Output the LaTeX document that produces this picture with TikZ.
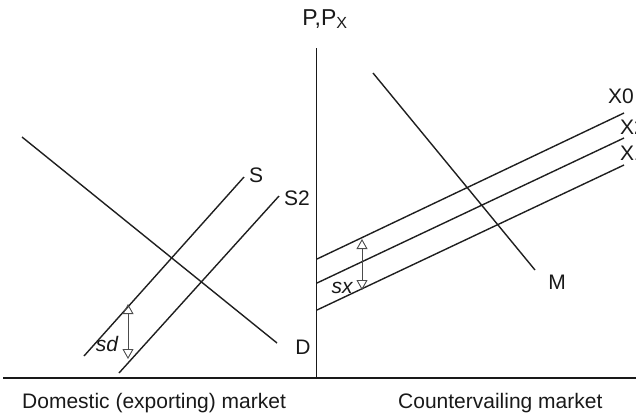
\documentclass[tikz,border=0pt]{standalone}
\usepackage{fontspec}
\setmainfont{Liberation Sans}
\usetikzlibrary{arrows.meta}
\begin{document}
\begin{tikzpicture}[x=1pt,y=-1pt,
  curve/.style={line width=1.4pt,draw=black!88},
  axisline/.style={line width=1.6pt,draw=black!90},
  shiftarrow/.style={line width=0.9pt,draw=black!70,
    {Triangle[open,length=10pt,width=11pt,line width=0.9pt]}-{Triangle[open,length=10pt,width=11pt,line width=0.9pt]}},
  lab/.style={font=\fontsize{21}{25}\selectfont,inner sep=0pt,text=black!90},
  ilab/.style={lab,font=\fontsize{21}{25}\selectfont\itshape}]
\useasboundingbox (0,0) rectangle (636,418);
% axes
\coordinate (vtop) at (316.5,48);
\coordinate (vbot) at (316.5,378);
\coordinate (hl) at (3,378);
\coordinate (hr) at (636,378);
\draw[axisline] (vtop) -- (vbot);
\draw[axisline] (hl) -- (hr);
\node[lab,font=\fontsize{23}{27}\selectfont] (py) at (325,19) {P,P$_{\mathrm{X}}$};
% left market
\coordinate (d1) at (22,137);
\coordinate (d2) at (277,343);
\draw[curve] (d1) -- (d2);
\coordinate (s1) at (84,356);
\coordinate (s2) at (244,177);
\draw[curve] (s1) -- (s2);
\coordinate (t1) at (119,373);
\coordinate (t2) at (279,196);
\draw[curve] (t1) -- (t2);
\node[lab] (slab) at (256,175) {S};
\node[lab] (s2lab) at (297,198) {S2};
\node[lab] (dlab) at (303,347) {D};
\coordinate (sda) at (128,304);
\coordinate (sdb) at (128,359);
\draw[shiftarrow] (sda) -- (sdb);
\node[ilab] (sd) at (107,344) {sd};
% right market
\coordinate (x01) at (317,259);
\coordinate (x02) at (624,113);
\draw[curve] (x01) -- (x02);
\coordinate (x21) at (317,283);
\coordinate (x22) at (624,138);
\draw[curve] (x21) -- (x22);
\coordinate (x11) at (317,310);
\coordinate (x12) at (624,165);
\draw[curve] (x11) -- (x12);
\coordinate (m1) at (373,73);
\coordinate (m2) at (535,270);
\draw[curve] (m1) -- (m2);
\node[lab] (mlab) at (557,282) {M};
\node[lab,anchor=west] (x0lab) at (608,96) {X0};
\node[lab,anchor=west] (x2lab) at (620,127) {X2};
\node[lab,anchor=west] (x1lab) at (620,153) {X1};
\coordinate (sxa) at (362,239);
\coordinate (sxb) at (362,290);
\draw[shiftarrow] (sxa) -- (sxb);
\node[ilab] (sx) at (342,288) {sx};
% captions
\node[lab,anchor=base west] (dom) at (22,408) {Domestic (exporting) market};
\node[lab,anchor=base west] (cnt) at (398,408) {Countervailing market};
\end{tikzpicture}
\end{document}
